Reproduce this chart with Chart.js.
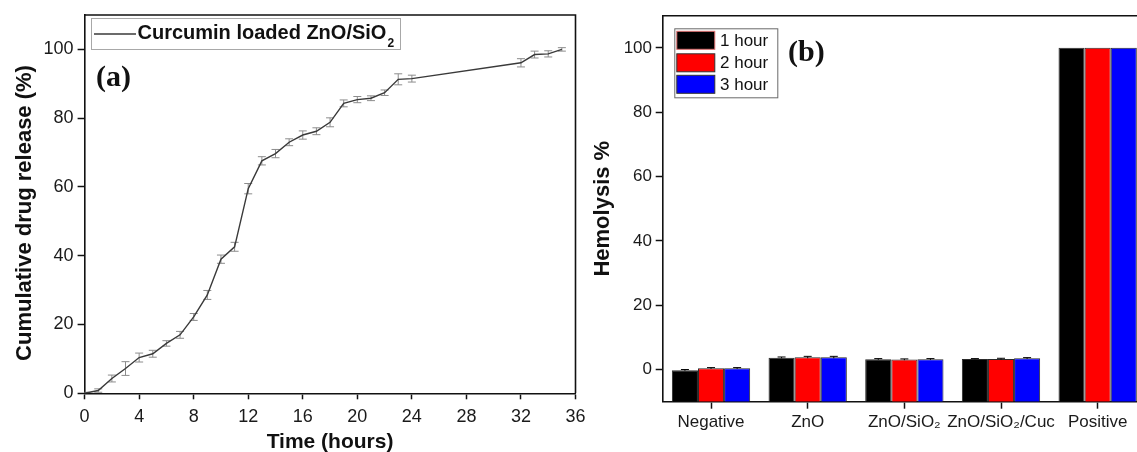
<!DOCTYPE html>
<html><head><meta charset="utf-8">
<script src="https://cdn.jsdelivr.net/npm/chart.js@4.4.1/dist/chart.umd.min.js"></script>
<style>
html,body{margin:0;padding:0;background:#fff;overflow:hidden;width:1137px;height:452px;position:relative;}
#ca{position:absolute;left:0;top:0;}
#cb{position:absolute;left:590px;top:0;}
</style></head><body>
<canvas id="ca" width="600" height="452"></canvas>
<canvas id="cb" width="600" height="452"></canvas>
<script>
// ---------- Panel (a) data ----------
const hoursA   = [0,1,2,3,4,5,6,7,8,9,10,11,12,13,14,15,16,17,18,19,20,21,22,23,24,32,33,34,35];
const releaseA = [0,0.8,4.3,7.2,10.4,11.5,14.5,17,22.2,28.6,39,42.6,59.5,67.6,69.7,73,75.1,76.2,78.8,84.3,85.4,85.8,87.4,91.3,91.5,96.1,98.5,98.7,100];
const errA     = [0.3,0.5,1,2,1.3,1,0.8,1,1,1.3,1.2,1.3,1.5,1.2,1.2,1,1.2,1,1.3,1,0.9,0.7,0.8,1.6,1,1.2,1,0.9,0.5];
const xTicksA  = [0,4,8,12,16,20,24,28,32,36];
const yTicksA  = [0,20,40,60,80,100];
const seriesA  = 'Curcumin loaded ZnO/SiO₂';

// ---------- Panel (b) data ----------
const groupsB = ['Negative','ZnO','ZnO/SiO₂','ZnO/SiO₂/Cuc','Positive'];
const seriesB = ['1 hour','2 hour','3 hour'];
const hour1B  = [-0.2,3.7,3.2,3.3,100];
const hour2B  = [0.4,3.8,3.1,3.3,100];
const hour3B  = [0.4,3.8,3.2,3.5,100];
const err1B   = [0.2,0.2,0.2,0.1,0];
const err2B   = [0.2,0.3,0.2,0.2,0];
const err3B   = [0.2,0.3,0.2,0.2,0];
const yTicksB = [0,20,40,60,80,100];
const yMinB = -10, yMaxB = 110;

const SANS = '"Liberation Sans", Arial, Helvetica, sans-serif';
const SERIF = '"Liberation Serif", "Times New Roman", serif';
Chart.defaults.font.family = SANS;
Chart.defaults.color = '#1a1a1a';

function drawSubText(ctx, text, x, y, size, bold, subSize, subDy) {
  const parts = text.split('₂');
  const f = (bold ? 'bold ' : '') + size + 'px ' + SANS;
  const fs = (bold ? 'bold ' : '') + subSize + 'px ' + SANS;
  let cx = x;
  parts.forEach((p, i) => {
    ctx.font = f; ctx.fillText(p, cx, y); cx += ctx.measureText(p).width;
    if (i < parts.length - 1) {
      ctx.font = fs; ctx.fillText('2', cx + 1, y + subDy); cx += ctx.measureText('2').width + 1;
    }
  });
}

const framePlugin = {
  id: 'frame',
  afterDraw(chart) {
    const {ctx, chartArea: a} = chart;
    ctx.save();
    ctx.strokeStyle = '#111'; ctx.lineWidth = 1.6;
    ctx.beginPath();
    ctx.moveTo(a.left, a.top); ctx.lineTo(a.right, a.top); ctx.lineTo(a.right, a.bottom);
    ctx.stroke();
    ctx.restore();
  }
};

// ---------- Chart (a) ----------
const errBarsA = {
  id: 'errBarsA',
  beforeDatasetsDraw(chart) {
    const {ctx, chartArea: a, scales: {x, y}} = chart;
    ctx.save();
    ctx.beginPath(); ctx.rect(a.left, a.top, a.right - a.left, a.bottom - a.top); ctx.clip();
    ctx.strokeStyle = '#8c8c8c'; ctx.lineWidth = 1;
    hoursA.forEach((h, i) => {
      const px = x.getPixelForValue(h);
      const t = y.getPixelForValue(releaseA[i] + errA[i]);
      const b = y.getPixelForValue(releaseA[i] - errA[i]);
      ctx.beginPath();
      ctx.moveTo(px, t); ctx.lineTo(px, b);
      ctx.moveTo(px - 4, t); ctx.lineTo(px + 4, t);
      ctx.moveTo(px - 4, b); ctx.lineTo(px + 4, b);
      ctx.stroke();
    });
    ctx.restore();
  }
};

const decorA = {
  id: 'decorA',
  afterDraw(chart) {
    const {ctx, chartArea: a} = chart;
    const ds = chart.data.datasets[0];
    ctx.save();
    // legend
    const x0 = a.left + 6.4, y0 = a.top + 3;
    ctx.strokeStyle = '#a8a8a8'; ctx.lineWidth = 1;
    ctx.strokeRect(x0 + 0.5, y0 + 0.5, 309, 31);
    ctx.strokeStyle = ds.borderColor; ctx.lineWidth = 1.4;
    ctx.beginPath(); ctx.moveTo(x0 + 3, y0 + 16); ctx.lineTo(x0 + 45, y0 + 16); ctx.stroke();
    ctx.fillStyle = '#111'; ctx.textBaseline = 'alphabetic'; ctx.textAlign = 'left';
    drawSubText(ctx, ds.label, x0 + 46.5, y0 + 21, 20, true, 12, 8);
    // panel label
    ctx.font = 'bold 30px ' + SERIF;
    ctx.fillText('(a)', a.left + 11.4, a.top + 70.5);
    // y title
    ctx.translate(25, 213);
    ctx.rotate(-Math.PI / 2);
    ctx.textAlign = 'center'; ctx.textBaseline = 'middle';
    ctx.font = 'bold 22px ' + SANS;
    ctx.fillText('Cumulative drug release (%)', 0, 0);
    ctx.restore();
  }
};

new Chart(document.getElementById('ca'), {
  type: 'line',
  data: {
    datasets: [{
      label: seriesA,
      data: hoursA.map((h, i) => ({x: h, y: releaseA[i]})),
      borderColor: '#3a3a3a', borderWidth: 1.4, pointRadius: 0, tension: 0, fill: false
    }]
  },
  options: {
    responsive: false, animation: false, devicePixelRatio: 1,
    layout: {padding: {left: 0, top: 15, right: 24.5, bottom: 0}},
    plugins: {legend: {display: false}, tooltip: {enabled: false}},
    scales: {
      x: {
        type: 'linear', min: 0, max: 36,
        afterBuildTicks: s => { s.ticks = xTicksA.map(v => ({value: v})); },
        afterFit: s => { s.height = 58.7; },
        grid: {drawOnChartArea: false, drawTicks: true, tickLength: 6, tickColor: '#111', tickWidth: 1.5},
        border: {display: true, color: '#111', width: 1.6},
        ticks: {font: {size: 18}, color: '#1a1a1a', padding: 7, maxRotation: 0, autoSkip: false},
        title: {display: true, text: 'Time (hours)', font: {size: 21, weight: 'bold', lineHeight: 1}, padding: {top: 0, bottom: -1}, color: '#111'}
      },
      y: {
        type: 'linear', min: 0, max: 110,
        afterBuildTicks: s => { s.ticks = yTicksA.map(v => ({value: v})); },
        afterFit: s => { s.width = 84.6; },
        grid: {drawOnChartArea: false, drawTicks: true, tickLength: 7, tickColor: '#111', tickWidth: 1.5},
        border: {display: true, color: '#111', width: 1.6},
        ticks: {font: {size: 18}, color: '#1a1a1a', padding: 4}
      }
    }
  },
  plugins: [errBarsA, decorA, framePlugin]
});

// ---------- Chart (b) ----------
const errBarsB = {
  id: 'errBarsB',
  afterDatasetsDraw(chart) {
    const {ctx, scales: {y}} = chart;
    const errs = [err1B, err2B, err3B];
    ctx.save();
    ctx.strokeStyle = '#000'; ctx.lineWidth = 1;
    chart.data.datasets.forEach((ds, d) => {
      const meta = chart.getDatasetMeta(d);
      meta.data.forEach((bar, i) => {
        const e = errs[d][i]; if (!e) return;
        const v = ds.data[i];
        const t = y.getPixelForValue(v + e), b = y.getPixelForValue(v - e);
        ctx.beginPath();
        ctx.moveTo(bar.x, t); ctx.lineTo(bar.x, b);
        ctx.moveTo(bar.x - 4, t); ctx.lineTo(bar.x + 4, t);
        ctx.stroke();
      });
    });
    ctx.restore();
  }
};

const decorB = {
  id: 'decorB',
  afterDraw(chart) {
    const {ctx, chartArea: a} = chart;
    ctx.save();
    const x0 = a.left + 11.6, y0 = a.top + 12.6;
    ctx.strokeStyle = '#6a6a6a'; ctx.lineWidth = 1;
    ctx.strokeRect(x0 + 0.5, y0 + 0.5, 103, 69);
    const rows = [12, 34.5, 56];
    chart.data.datasets.forEach((ds, d) => {
      const cy = y0 + rows[d];
      ctx.fillStyle = ds.backgroundColor;
      ctx.fillRect(x0 + 2.5, cy - 9, 38, 18);
      ctx.strokeStyle = d === 0 ? '#e07070' : '#333';
      ctx.strokeRect(x0 + 2.5, cy - 9, 38, 18);
      ctx.fillStyle = '#111';
      ctx.font = '17px ' + SANS; ctx.textBaseline = 'middle'; ctx.textAlign = 'left';
      ctx.fillText(ds.label, x0 + 45.7, cy + 1);
    });
    ctx.font = 'bold 30px ' + SERIF; ctx.textBaseline = 'alphabetic';
    ctx.fillText('(b)', a.left + 125.3, a.top + 44.8);
    ctx.restore();
  }
};

const colorsB = ['#000000', '#ff0000', '#0000ff'];
const valuesB = [hour1B, hour2B, hour3B];
new Chart(document.getElementById('cb'), {
  type: 'bar',
  data: {
    labels: groupsB,
    datasets: seriesB.map((s, d) => ({
      label: s, data: valuesB[d], backgroundColor: colorsB[d],
      borderColor: '#2a2a2a', borderWidth: 1, base: yMinB
    }))
  },
  options: {
    responsive: false, animation: false, devicePixelRatio: 1,
    layout: {padding: {left: 0, top: 15.7, right: 44, bottom: 0}},
    datasets: {bar: {barPercentage: 1, categoryPercentage: 0.81}},
    plugins: {legend: {display: false}, tooltip: {enabled: false}},
    scales: {
      x: {
        afterFit: s => { s.height = 50.3; },
        grid: {drawOnChartArea: false, drawTicks: true, tickLength: 7, tickColor: '#111', tickWidth: 1.5, offset: false},
        border: {display: true, color: '#111', width: 1.6},
        ticks: {font: {size: 17}, color: '#1a1a1a', padding: 3, maxRotation: 0, autoSkip: false}
      },
      y: {
        type: 'linear', min: yMinB, max: yMaxB,
        afterBuildTicks: s => { s.ticks = yTicksB.map(v => ({value: v})); },
        afterFit: s => { s.width = 72.7; },
        grid: {drawOnChartArea: false, drawTicks: true, tickLength: 7, tickColor: '#111', tickWidth: 1.5},
        border: {display: true, color: '#111', width: 1.6},
        ticks: {font: {size: 17}, color: '#1a1a1a', padding: 3.7},
        title: {display: true, text: 'Hemolysis %', font: {size: 22, weight: 'bold', lineHeight: 1}, padding: {top: 2, bottom: 0}, color: '#111'}
      }
    }
  },
  plugins: [errBarsB, decorB, framePlugin]
});
</script>
</body></html>
